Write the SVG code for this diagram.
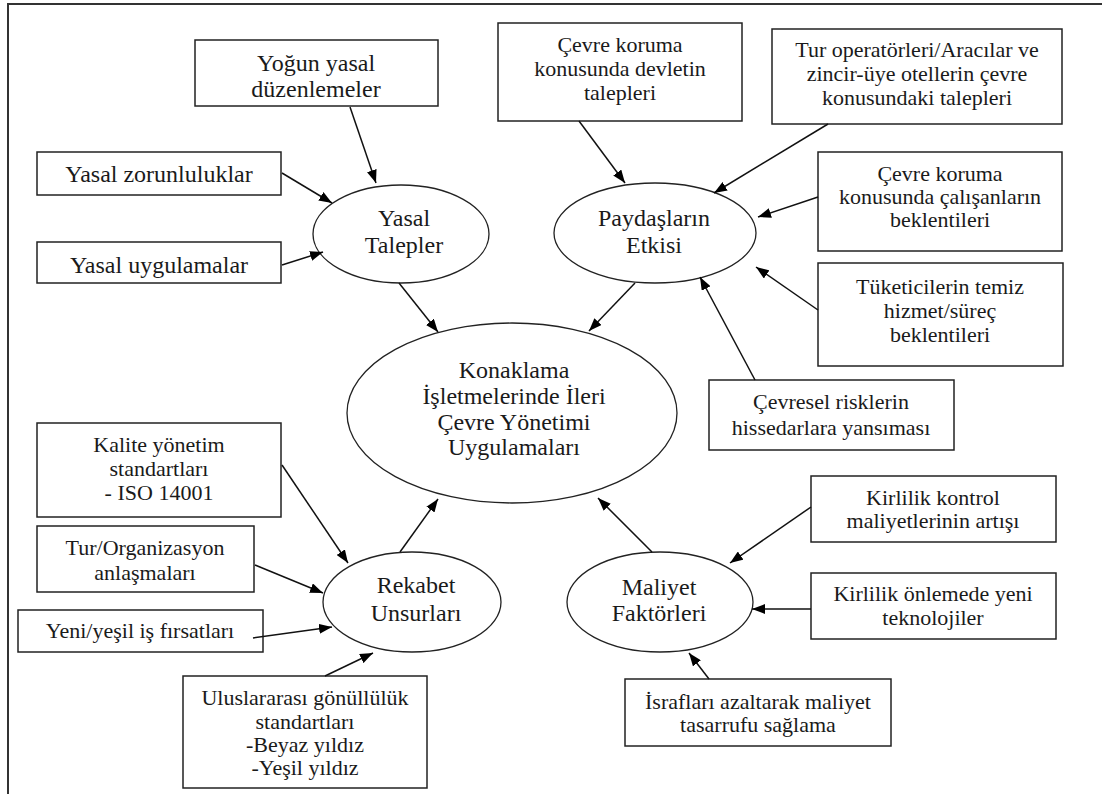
<svg xmlns="http://www.w3.org/2000/svg" width="1102" height="794" viewBox="0 0 1102 794">
<style>
.box{fill:#fff;stroke:#222;stroke-width:1.5}
.ell{fill:#fff;stroke:#222;stroke-width:1.3}
text{font-family:"Liberation Serif","Times New Roman",serif;fill:#1a1a1a;text-anchor:middle}
.s{font-size:22px}
.l{font-size:24px}
.c line{stroke:#111;stroke-width:1.5;marker-end:url(#ah)}
</style>
<defs>
<marker id="ah" markerUnits="userSpaceOnUse" markerWidth="14" markerHeight="10" refX="13" refY="5" orient="auto">
<path d="M0,0 L13,5 L0,10 z" fill="#000"/>
</marker>
</defs>
<rect width="1102" height="794" fill="#fff"/>
<path d="M8,794 V4 H1102" fill="none" stroke="#333" stroke-width="2"/>

<g id="n-yogun"><rect class="box" x="195" y="40" width="243" height="66"/><text class="l" x="316" y="71">Yoğun yasal</text><text class="l" x="316" y="97">düzenlemeler</text></g>
<g id="n-zorunluluk"><rect class="box" x="37" y="152" width="244" height="43"/><text class="l" x="159" y="182">Yasal zorunluluklar</text></g>
<g id="n-uygulama"><rect class="box" x="37" y="242" width="244" height="41"/><text class="l" x="159" y="273">Yasal uygulamalar</text></g>
<g id="n-yasal"><ellipse class="ell" cx="401" cy="234" rx="88" ry="49"/><text class="l" x="404" y="226">Yasal</text><text class="l" x="404" y="253">Talepler</text></g>

<g id="n-devlet"><rect class="box" x="498" y="23" width="244" height="98"/><text class="s" x="620" y="52">Çevre koruma</text><text class="s" x="620" y="76">konusunda devletin</text><text class="s" x="620" y="100">talepleri</text></g>
<g id="n-tur"><rect class="box" x="772" y="29" width="290" height="95"/><text class="s" x="917" y="57">Tur operatörleri/Aracılar ve</text><text class="s" x="917" y="81">zincir-üye otellerin çevre</text><text class="s" x="917" y="105">konusundaki talepleri</text></g>
<g id="n-calisan"><rect class="box" x="818" y="152" width="244" height="99"/><text class="s" x="940" y="181">Çevre koruma</text><text class="s" x="940" y="204">konusunda çalışanların</text><text class="s" x="940" y="227">beklentileri</text></g>
<g id="n-tuketici"><rect class="box" x="818" y="263" width="245" height="103"/><text class="s" x="940" y="294">Tüketicilerin temiz</text><text class="s" x="940" y="318">hizmet/süreç</text><text class="s" x="940" y="342">beklentileri</text></g>
<g id="n-cevresel"><rect class="box" x="709" y="380" width="245" height="70"/><text class="s" x="831" y="409">Çevresel risklerin</text><text class="s" x="831" y="435">hissedarlara yansıması</text></g>
<g id="n-paydas"><ellipse class="ell" cx="655" cy="233" rx="101" ry="50"/><text class="l" x="654" y="226">Paydaşların</text><text class="l" x="654" y="253">Etkisi</text></g>

<g id="n-main"><ellipse class="ell" cx="512" cy="413" rx="165" ry="90"/><text class="l" x="514" y="378">Konaklama</text><text class="l" x="514" y="404">İşletmelerinde İleri</text><text class="l" x="514" y="430">Çevre Yönetimi</text><text class="l" x="514" y="455">Uygulamaları</text></g>

<g id="n-kalite"><rect class="box" x="37" y="423" width="244" height="94"/><text class="s" x="159" y="452">Kalite yönetim</text><text class="s" x="159" y="476">standartları</text><text class="s" x="159" y="500">- ISO 14001</text></g>
<g id="n-turorg"><rect class="box" x="37" y="526" width="217" height="66"/><text class="s" x="145" y="555">Tur/Organizasyon</text><text class="s" x="145" y="580">anlaşmaları</text></g>
<g id="n-yeni"><rect class="box" x="18" y="610" width="245" height="42"/><text class="s" x="140" y="638">Yeni/yeşil iş fırsatları</text></g>
<g id="n-ulus"><rect class="box" x="183" y="676" width="244" height="112"/><text class="s" x="305" y="705">Uluslararası gönüllülük</text><text class="s" x="305" y="729">standartları</text><text class="s" x="305" y="752">-Beyaz yıldız</text><text class="s" x="305" y="775">-Yeşil yıldız</text></g>
<g id="n-rekabet"><ellipse class="ell" cx="412" cy="602" rx="89" ry="50"/><text class="l" x="416" y="593">Rekabet</text><text class="l" x="416" y="621">Unsurları</text></g>

<g id="n-maliyet"><ellipse class="ell" cx="660" cy="602" rx="93" ry="50"/><text class="l" x="659" y="595">Maliyet</text><text class="l" x="659" y="621">Faktörleri</text></g>
<g id="n-kontrol"><rect class="box" x="811" y="476" width="245" height="66"/><text class="s" x="933" y="505">Kirlilik kontrol</text><text class="s" x="933" y="528">maliyetlerinin artışı</text></g>
<g id="n-onleme"><rect class="box" x="811" y="573" width="245" height="66"/><text class="s" x="933" y="601">Kirlilik önlemede yeni</text><text class="s" x="933" y="625">teknolojiler</text></g>
<g id="n-israf"><rect class="box" x="625" y="679" width="266" height="67"/><text class="s" x="758" y="709">İsrafları azaltarak maliyet</text><text class="s" x="758" y="732">tasarrufu sağlama</text></g>

<g id="connectors" class="c">
<line x1="350" y1="107" x2="376" y2="183"/>
<line x1="282" y1="173" x2="332" y2="203"/>
<line x1="282" y1="265" x2="323" y2="252"/>
<line x1="579" y1="121" x2="625" y2="183"/>
<line x1="828" y1="124" x2="714" y2="193"/>
<line x1="818" y1="197" x2="758" y2="217"/>
<line x1="818" y1="310" x2="756" y2="267"/>
<line x1="755" y1="380" x2="700" y2="277"/>
<line x1="399" y1="283" x2="438" y2="332"/>
<line x1="635" y1="283" x2="589" y2="331"/>
<line x1="282" y1="465" x2="348" y2="563"/>
<line x1="255" y1="565" x2="323" y2="593"/>
<line x1="253" y1="638" x2="332" y2="627"/>
<line x1="325" y1="676" x2="373" y2="653"/>
<line x1="400" y1="552" x2="438" y2="499"/>
<line x1="652" y1="552" x2="598" y2="498"/>
<line x1="811" y1="507" x2="730" y2="563"/>
<line x1="811" y1="609" x2="752" y2="609"/>
<line x1="709" y1="679" x2="689" y2="653"/>
</g>
</svg>
